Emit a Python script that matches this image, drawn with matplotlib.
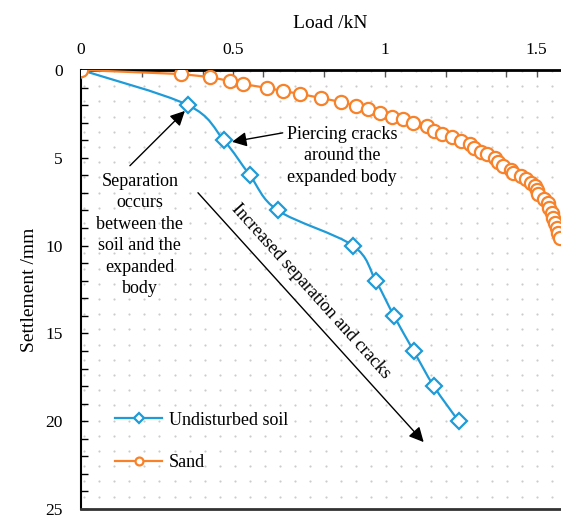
import matplotlib.pyplot as plt
from matplotlib.path import Path
from matplotlib.patches import PathPatch
import numpy as np

# load (kN) and settlement (mm)
soil_load = [0, 0.352, 0.470, 0.556, 0.648, 0.895, 0.970, 1.030, 1.095, 1.161, 1.243]
soil_settle = [0, 2, 4, 6, 8, 10, 12, 14, 16, 18, 20]

sand_load = [0, 0.329, 0.424, 0.490, 0.533, 0.612, 0.664, 0.720, 0.789, 0.855,
             0.905, 0.944, 0.984, 1.023, 1.059, 1.092, 1.138, 1.161, 1.188, 1.220,
             1.250, 1.280, 1.293, 1.316, 1.336, 1.362, 1.372, 1.388, 1.414, 1.421,
             1.447, 1.464, 1.480, 1.493, 1.500, 1.503, 1.523, 1.536, 1.539, 1.549,
             1.553, 1.559, 1.566, 1.569, 1.576]
sand_settle = [0, 0.23, 0.40, 0.63, 0.80, 1.02, 1.19, 1.36, 1.59, 1.82,
               2.05, 2.22, 2.44, 2.67, 2.78, 3.01, 3.18, 3.47, 3.64, 3.81,
               4.03, 4.20, 4.43, 4.66, 4.77, 5.00, 5.23, 5.45, 5.68, 5.85,
               6.02, 6.19, 6.42, 6.59, 6.82, 7.05, 7.33, 7.56, 7.84, 8.13,
               8.41, 8.69, 8.98, 9.26, 9.55]

x_ticks = [0, 0.5, 1, 1.5]
x_tick_labels = ['0', '0.5', '1', '1.5']
y_ticks = [0, 5, 10, 15, 20, 25]

blue = '#1F9BD8'
orange = '#F7822A'

plt.rcParams['font.family'] = ['Liberation Serif', 'DejaVu Serif']


def smooth_path(xs, ys):
    # excel-like smoothed line: catmull-rom segments as cubic beziers
    pts = np.column_stack([xs, ys]).astype(float)
    verts = [pts[0]]
    codes = [Path.MOVETO]
    n = len(pts)
    for i in range(n - 1):
        p0 = pts[i - 1] if i > 0 else pts[i]
        p1 = pts[i]
        p2 = pts[i + 1]
        p3 = pts[i + 2] if i + 2 < n else pts[i + 1]
        verts += [p1 + (p2 - p0) / 6, p2 - (p3 - p1) / 6, p2]
        codes += [Path.CURVE4] * 3
    return Path(verts, codes)


fig = plt.figure(figsize=(5.61, 5.16), dpi=100)
ax = fig.add_axes([81 / 561, 7 / 516, 480 / 561, 439 / 516])

# dotted background pattern
gx, gy = np.meshgrid(np.arange(84, 561, 15.1), np.arange(71, 509, 15.2))
ax.scatter((gx.ravel() - 81) / 480, 1 - (gy.ravel() - 70) / 439, s=2.5,
           color='#cccccc', linewidths=0, transform=ax.transAxes, zorder=0)

# undisturbed soil: smoothed line + markers
ax.add_patch(PathPatch(smooth_path(soil_load, soil_settle), fill=False,
                       edgecolor=blue, lw=1.6, zorder=3))
ax.plot(soil_load, soil_settle, ls='none', marker='D', ms=8, mfc='white',
        mec=blue, mew=1.6, zorder=4)
ax.plot([], [], color=blue, lw=1.6, marker='D', ms=8, mfc='white', mec=blue,
        mew=1.6, label='Undisturbed soil')

ax.plot(sand_load, sand_settle, color=orange, lw=1.6, marker='o', ms=9.5,
        mfc='white', mec=orange, mew=1.6, zorder=5, label='Sand')

ax.set_xlim(0, 1.58)
ax.set_ylim(25, 0)
ax.xaxis.tick_top()
ax.xaxis.set_label_position('top')
ax.set_xticks(x_ticks)
ax.set_xticklabels(x_tick_labels)
ax.set_xticks(np.arange(0.2, 1.58, 0.2), minor=True)
ax.set_yticks(y_ticks)
ax.set_yticks(np.arange(0, 26, 1), minor=True)
ax.tick_params(axis='x', which='both', direction='in', length=5, width=1,
               labelsize=12.5, pad=9, color='#555555')
ax.tick_params(axis='y', which='both', direction='in', length=5, width=1,
               labelsize=12.5, pad=13)
ax.set_xlabel('Load /kN', fontsize=14, labelpad=10)
ax.set_ylabel('Settlement /mm', fontsize=14)
ax.xaxis.set_label_coords(0.519, 1.095)
ax.yaxis.set_label_coords(-0.09, 0.5)

ax.spines['right'].set_visible(False)
ax.spines['top'].set_linewidth(2)
ax.spines['left'].set_linewidth(1.5)
ax.spines['bottom'].set_linewidth(2)
ax.spines['bottom'].set_color('#333333')

arrow = dict(arrowstyle='-|>', color='black', lw=1, mutation_scale=22,
             shrinkA=0, shrinkB=0)
ax.annotate('', xy=(0.497, 4.09), xytext=(0.664, 3.58), arrowprops=arrow)
ax.text(0.859, 4.89, 'Piercing cracks\naround the\nexpanded body', fontsize=13,
        ha='center', va='center', linespacing=1.35)

ax.annotate('', xy=(0.342, 2.33), xytext=(0.161, 5.45), arrowprops=arrow)
ax.text(0.194, 9.4, 'Separation\noccurs\nbetween the\nsoil and the\nexpanded\nbody',
        fontsize=13, ha='center', va='center', linespacing=1.35)

ax.annotate('', xy=(1.128, 21.19), xytext=(0.385, 6.99), arrowprops=arrow)
ax.text(0.755, 12.6, 'Increased separation and cracks', fontsize=13,
        rotation=-48, rotation_mode='anchor', ha='center', va='center')

ax.legend(loc='upper left', bbox_to_anchor=(0.071, 0.222), frameon=False,
          fontsize=13, handlelength=2.6, handletextpad=0.4, labelspacing=1.4,
          borderpad=0, borderaxespad=0, markerscale=0.6)

fig.savefig('out.png', dpi=100)
